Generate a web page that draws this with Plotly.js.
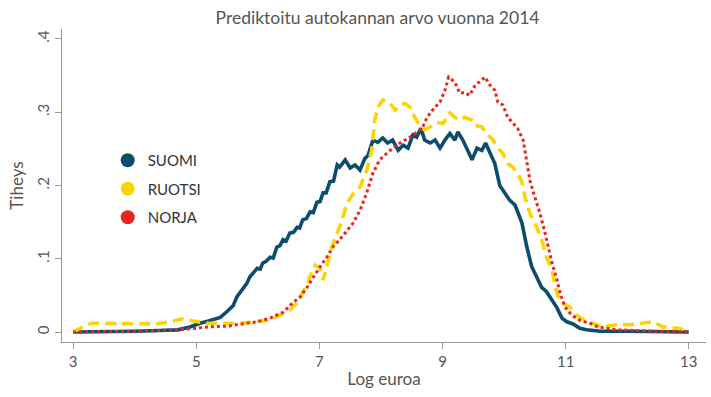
<!DOCTYPE html>
<html>
<head>
<meta charset="utf-8">
<script src="https://cdn.plot.ly/plotly-3.0.1.min.js"></script>
<style>html,body{margin:0;padding:0;background:#fff;}#chart{width:711px;height:397px;}</style>
</head>
<body>
<div id="chart"></div>
<script>
// Series names
const seriesNames = ["SUOMI", "RUOTSI", "NORJA"];

// SUOMI (Finland)
const suomiX = [3.0,3.5,4.0,4.4,4.7,4.9,5.06,5.2,5.39,5.5,5.6,5.66,5.72,5.76,5.82,5.87,5.93,5.99,6.04,6.08,6.14,6.2,6.25,6.31,6.36,6.41,6.46,6.52,6.58,6.64,6.68,6.73,6.79,6.85,6.9,6.96,7.01,7.06,7.11,7.17,7.23,7.29,7.33,7.42,7.5,7.58,7.66,7.74,7.79,7.87,7.95,8.03,8.11,8.19,8.28,8.36,8.44,8.52,8.58,8.65,8.71,8.8,8.88,8.96,9.04,9.12,9.2,9.25,9.33,9.41,9.48,9.56,9.64,9.7,9.77,9.85,9.93,10.01,10.09,10.18,10.29,10.37,10.45,10.53,10.61,10.69,10.78,10.86,10.94,11.02,11.12,11.23,11.34,11.56,12.0,12.5,13.0];
const suomiY = [0.000,0.000,0.001,0.002,0.003,0.007,0.012,0.015,0.020,0.028,0.036,0.048,0.055,0.061,0.066,0.075,0.082,0.087,0.086,0.094,0.097,0.102,0.101,0.116,0.118,0.126,0.124,0.135,0.136,0.143,0.142,0.153,0.155,0.164,0.163,0.177,0.178,0.190,0.190,0.205,0.206,0.228,0.225,0.235,0.224,0.228,0.221,0.237,0.241,0.262,0.259,0.265,0.258,0.262,0.248,0.255,0.251,0.269,0.266,0.278,0.262,0.258,0.262,0.251,0.262,0.271,0.262,0.273,0.262,0.248,0.235,0.251,0.248,0.258,0.244,0.230,0.200,0.190,0.180,0.173,0.149,0.116,0.089,0.075,0.061,0.055,0.044,0.033,0.019,0.014,0.011,0.005,0.003,0.001,0.001,0.000,0.000];

// RUOTSI (Sweden)
const ruotsiX = [3.0,3.23,3.32,3.76,4.36,4.57,4.79,4.95,5.18,5.39,5.71,5.92,6.15,6.36,6.52,6.64,6.73,6.81,6.88,6.93,7.01,7.06,7.09,7.14,7.2,7.29,7.37,7.45,7.56,7.66,7.77,7.85,7.9,7.95,8.03,8.15,8.23,8.31,8.39,8.47,8.55,8.63,8.71,8.8,8.91,9.01,9.12,9.2,9.28,9.36,9.48,9.53,9.64,9.72,9.82,9.9,9.98,10.06,10.14,10.22,10.29,10.34,10.42,10.53,10.61,10.69,10.78,10.82,10.87,10.95,11.07,11.18,11.34,11.51,11.6,11.83,12.04,12.25,12.42,12.58,12.81,13.0];
const ruotsiY = [0.000,0.010,0.012,0.012,0.011,0.014,0.018,0.015,0.012,0.012,0.012,0.014,0.016,0.023,0.030,0.040,0.053,0.067,0.082,0.091,0.087,0.071,0.080,0.098,0.116,0.135,0.153,0.176,0.190,0.198,0.221,0.248,0.289,0.307,0.317,0.312,0.303,0.310,0.312,0.307,0.293,0.282,0.276,0.280,0.286,0.285,0.299,0.293,0.289,0.293,0.289,0.282,0.280,0.271,0.262,0.251,0.244,0.230,0.225,0.217,0.205,0.184,0.162,0.143,0.126,0.102,0.085,0.067,0.050,0.040,0.034,0.023,0.014,0.010,0.007,0.010,0.010,0.012,0.014,0.007,0.005,0.002];

// NORJA (Norway)
const norjaX = [3.0,4.0,4.69,4.95,5.22,5.5,5.71,5.99,6.2,6.41,6.57,6.69,6.8,6.9,7.01,7.12,7.22,7.33,7.45,7.55,7.66,7.77,7.87,7.98,8.15,8.31,8.47,8.58,8.67,8.75,8.84,8.96,9.04,9.1,9.2,9.28,9.36,9.44,9.53,9.64,9.69,9.77,9.85,9.9,9.98,10.06,10.14,10.22,10.31,10.37,10.42,10.5,10.58,10.66,10.72,10.78,10.86,10.91,10.99,11.1,11.23,11.39,11.52,11.83,12.5,13.0];
const norjaY = [0.000,0.001,0.003,0.005,0.007,0.008,0.011,0.014,0.019,0.027,0.040,0.048,0.061,0.075,0.089,0.102,0.116,0.126,0.139,0.149,0.166,0.190,0.217,0.235,0.248,0.258,0.266,0.273,0.278,0.293,0.303,0.314,0.330,0.348,0.341,0.326,0.327,0.323,0.337,0.344,0.348,0.337,0.330,0.314,0.310,0.293,0.286,0.278,0.262,0.235,0.207,0.184,0.163,0.137,0.116,0.094,0.071,0.053,0.034,0.023,0.016,0.012,0.007,0.003,0.001,0.000];

// Axis ticks
const xTicks = [3,5,7,9,11,13];
const yTicks = [0,0.1,0.2,0.3,0.4];
const yTickLabels = ["0",".1",".2",".3",".4"];

const colors = ["#0c4d6e", "#fad506", "#e8241c"];
const FONT = "Lato, 'Open Sans', sans-serif";

const traces = [
  {x: suomiX, y: suomiY, mode: "lines", line: {color: colors[0], width: 3.6}, showlegend: false, hoverinfo: "skip"},
  {x: ruotsiX, y: ruotsiY, mode: "lines", line: {color: colors[1], width: 3.6, dash: "11px,6px"}, showlegend: false, hoverinfo: "skip"},
  {x: norjaX, y: norjaY, mode: "lines", line: {color: colors[2], width: 3, dash: "3px,3px"}, showlegend: false, hoverinfo: "skip"}
];
seriesNames.forEach((n, i) => {
  traces.push({x: [null], y: [null], mode: "markers", name: n, legendgroup: "g" + i,
    marker: {color: colors[i], size: 14, symbol: "circle"}, showlegend: true});
});

const layout = {
  width: 711, height: 397,
  margin: {l: 62, r: 5, t: 29, b: 55, pad: 0},
  paper_bgcolor: "#fff", plot_bgcolor: "#fff",
  font: {family: FONT, color: "#555"},
  title: {text: "Prediktoitu autokannan arvo vuonna 2014", font: {family: FONT, size: 17.5, color: "#555"},
    x: 0.531, xanchor: "center", y: 0.955, yanchor: "middle"},
  xaxis: {range: [2.82, 13.28], tickvals: xTicks, ticktext: xTicks.map(String),
    showgrid: false, zeroline: false, showline: true, linecolor: "#999", linewidth: 1,
    ticks: "outside", ticklen: 6, tickcolor: "#999", tickfont: {family: FONT, size: 15, color: "#555"},
    title: {text: "Log euroa", font: {family: FONT, size: 17, color: "#555"}, standoff: 4}},
  yaxis: {range: [-0.0136, 0.4136], tickvals: yTicks, ticktext: yTickLabels, tickangle: -90,
    showgrid: false, zeroline: false, showline: true, linecolor: "#999", linewidth: 1,
    ticks: "outside", ticklen: 6, tickcolor: "#999", tickfont: {family: FONT, size: 15, color: "#555"},
    title: {text: "Tiheys", font: {family: FONT, size: 17, color: "#555"}, standoff: 6}},
  legend: {x: 0.071, xanchor: "left", y: 0.489, yanchor: "middle", bgcolor: "rgba(0,0,0,0)",
    font: {family: FONT, size: 15, color: "#333"}, traceorder: "grouped", tracegroupgap: 6, itemwidth: 30},
  showlegend: true
};

Plotly.newPlot("chart", traces, layout, {staticPlot: true, displayModeBar: false});
</script>
</body>
</html>
